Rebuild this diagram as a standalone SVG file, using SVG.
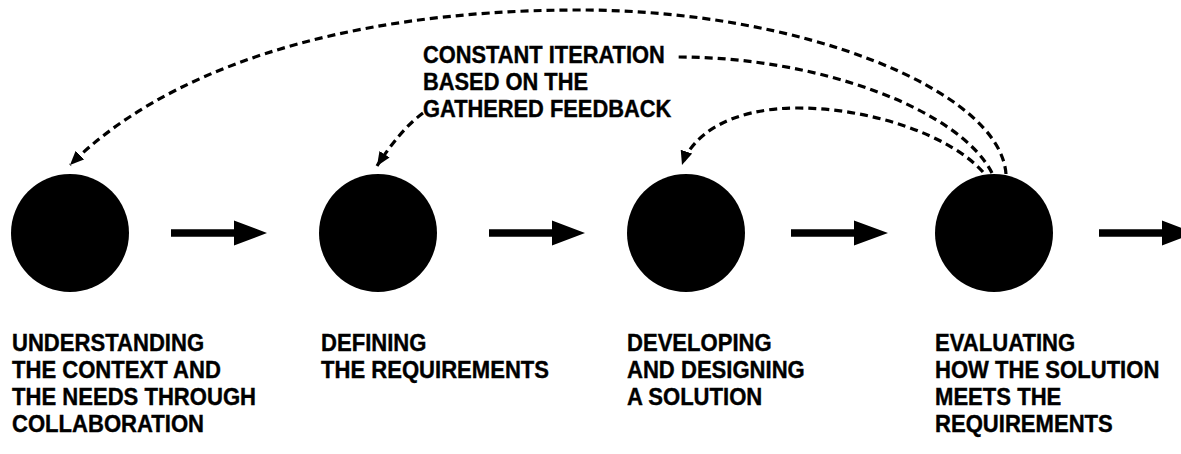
<svg xmlns="http://www.w3.org/2000/svg" width="1181" height="454" viewBox="0 0 1181 454">
  <style>
    .node-circle { fill: #000; }
    .label { font-family: "Liberation Sans", Arial, sans-serif; font-weight: bold; font-size: 24px; fill: #000; stroke: #000; stroke-width: 0.4; }
    .flow { fill: #000; }
    .feedback { fill: none; stroke: #000; stroke-width: 3.2; stroke-dasharray: 8 5; }
  </style>
  <defs>
    <marker id="dashHead" markerUnits="userSpaceOnUse" markerWidth="16" markerHeight="14" refX="14" refY="6" orient="auto">
      <path d="M0,0 L14,6 L0,12 Z" fill="#000"/>
    </marker>
  </defs>
  <rect width="1181" height="454" fill="#fff"/>

  <g id="connectors">
    <g id="flow-arrows" class="flow">
      <path d="M171,229.3 H234 V220.5 L267,233 L234,245.5 V236.7 H171 Z"/>
      <path d="M489,229.3 H552 V220.5 L585,233 L552,245.5 V236.7 H489 Z"/>
      <path d="M791,229.3 H854 V220.5 L888,233 L854,245.5 V236.7 H791 Z"/>
      <path d="M1099,229.3 H1162 V220.5 L1195,233 L1162,245.5 V236.7 H1099 Z"/>
    </g>
    <g id="feedback-loops">
      <path class="feedback" d="M1006,174 C1000,90 800,10 580,10 C330,10 160,75 70,165" marker-end="url(#dashHead)"/>
      <path class="feedback" d="M992,173 C960,110 820,57 678,57"/>
      <path class="feedback" d="M423,113 Q400,130 377,166" marker-end="url(#dashHead)"/>
      <path class="feedback" d="M983,172 C950,135 870,108 798,108 C730,108 692,135 682,165" marker-end="url(#dashHead)"/>
    </g>
  </g>

  <g id="feedback-label" transform="translate(423,0) scale(0.91,1)">
    <text class="label" x="0" y="63">CONSTANT ITERATION</text>
    <text class="label" x="0" y="90">BASED ON THE</text>
    <text class="label" x="0" y="117">GATHERED FEEDBACK</text>
  </g>

  <g id="node-understanding">
    <circle class="node-circle" cx="70" cy="233" r="59"/>
    <g transform="translate(12,0) scale(0.92,1)">
      <text class="label" x="0" y="351">UNDERSTANDING</text>
      <text class="label" x="0" y="378">THE CONTEXT AND</text>
      <text class="label" x="0" y="405">THE NEEDS THROUGH</text>
      <text class="label" x="0" y="432">COLLABORATION</text>
    </g>
  </g>

  <g id="node-defining">
    <circle class="node-circle" cx="378" cy="233" r="59"/>
    <g transform="translate(321,0) scale(0.92,1)">
      <text class="label" x="0" y="351">DEFINING</text>
      <text class="label" x="0" y="378">THE REQUIREMENTS</text>
    </g>
  </g>

  <g id="node-developing">
    <circle class="node-circle" cx="686" cy="233" r="59"/>
    <g transform="translate(627,0) scale(0.92,1)">
      <text class="label" x="0" y="351">DEVELOPING</text>
      <text class="label" x="0" y="378">AND DESIGNING</text>
      <text class="label" x="0" y="405">A SOLUTION</text>
    </g>
  </g>

  <g id="node-evaluating">
    <circle class="node-circle" cx="994" cy="233" r="59"/>
    <g transform="translate(935,0) scale(0.92,1)">
      <text class="label" x="0" y="351">EVALUATING</text>
      <text class="label" x="0" y="378">HOW THE SOLUTION</text>
      <text class="label" x="0" y="405">MEETS THE</text>
      <text class="label" x="0" y="432">REQUIREMENTS</text>
    </g>
  </g>
</svg>
